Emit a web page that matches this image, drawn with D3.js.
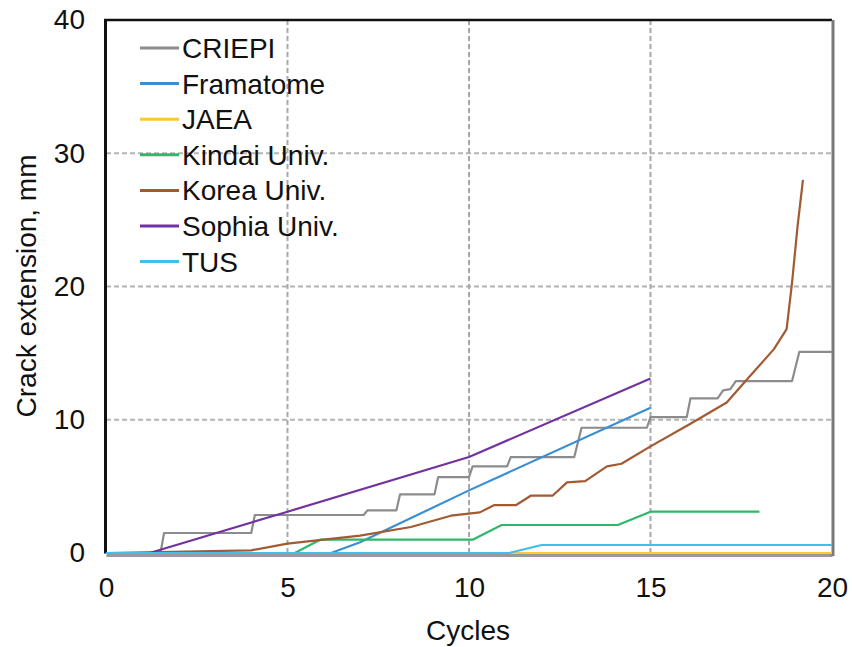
<!DOCTYPE html>
<html>
<head>
<meta charset="utf-8">
<script src="https://cdn.jsdelivr.net/npm/d3@7"></script>
<style>
  body { margin: 0; background: #fff; }
  text { font-family: "Liberation Sans", Arial, sans-serif; fill: #111; }
</style>
</head>
<body>
<div id="chart"></div>
<script>
// series names + colours (legend order)
const seriesNames = ["CRIEPI", "Framatome", "JAEA", "Kindai Univ.", "Korea Univ.", "Sophia Univ.", "TUS"];
const seriesColors = ["#8c8c8c", "#3a8fd3", "#ffc832", "#2eb86a", "#a25a32", "#7232a0", "#3fbfee"];

// [cycles, crack extension mm]
const criepi = [[0,0],[1.5,0],[1.6,1.5],[4.0,1.5],[4.1,2.85],[7.1,2.85],[7.2,3.2],[8.0,3.2],[8.1,4.4],[9.05,4.4],[9.15,5.7],[10.0,5.7],[10.1,6.5],[11.05,6.5],[11.15,7.2],[12.9,7.2],[13.1,9.4],[14.9,9.4],[15.0,10.2],[16.0,10.2],[16.1,11.6],[16.85,11.6],[17.0,12.2],[17.2,12.3],[17.35,12.9],[18.9,12.9],[19.1,15.1],[20,15.1]];
const framatome = [[0,0],[6.2,0],[7.0,0.8],[10.0,4.7],[15.0,10.9]];
const jaea = [[0,0],[20,0]];
const kindai = [[0,0],[5.2,0],[5.9,1.0],[10.1,1.0],[10.9,2.1],[14.1,2.1],[15.0,3.1],[18.0,3.1]];
const korea = [[0,0],[4.0,0.2],[5.0,0.7],[7.0,1.3],[8.4,1.95],[9.5,2.8],[10.3,3.05],[10.7,3.6],[11.3,3.6],[11.7,4.3],[12.3,4.3],[12.7,5.3],[13.2,5.4],[13.8,6.5],[14.2,6.7],[15.0,8.0],[16.1,9.7],[17.1,11.3],[17.65,13.0],[18.4,15.3],[18.75,16.8],[18.9,20.3],[19.05,24.5],[19.2,28.0]];
const sophia = [[0,0],[1.2,0],[5.0,3.1],[10.0,7.2],[15.0,13.1]];
const tus = [[0,0],[11.1,0],[12.0,0.6],[20,0.6]];
const seriesData = [criepi, framatome, jaea, kindai, korea, sophia, tus];

const xTicks = [0, 5, 10, 15, 20];
const yTicks = [0, 10, 20, 30, 40];

const W = 852, H = 647;
const plot = {left: 106, right: 832, top: 20, bottom: 553};

const svg = d3.select("#chart").append("svg")
    .attr("width", W)
    .attr("height", H);

const x = d3.scaleLinear().domain([0, 20]).range([plot.left, plot.right]);
const y = d3.scaleLinear().domain([0, 40]).range([plot.bottom, plot.top]);

// grid
svg.append("g").selectAll("line")
    .data(yTicks.filter(d => d > 0 && d < 40))
    .enter().append("line")
    .attr("x1", plot.left).attr("x2", plot.right)
    .attr("y1", d => y(d)).attr("y2", d => y(d))
    .attr("stroke", "#b4b4b4")
    .attr("stroke-width", 2)
    .attr("stroke-dasharray", "5,3");

svg.append("g").selectAll("line")
    .data(xTicks.filter(d => d > 0 && d < 20))
    .enter().append("line")
    .attr("x1", d => x(d)).attr("x2", d => x(d))
    .attr("y1", plot.top).attr("y2", plot.bottom)
    .attr("stroke", "#a8a8a8")
    .attr("stroke-width", 2)
    .attr("stroke-dasharray", "5,3");

// axes (Excel style frame)
const xAxis = svg.append("g")
    .attr("transform", `translate(0,${plot.bottom + 2})`)
    .call(d3.axisBottom(x).tickValues(xTicks).tickSize(0).tickPadding(22));
xAxis.select(".domain").attr("stroke", "#999").attr("stroke-width", 3);
xAxis.selectAll("text").attr("font-size", "28px").attr("font-family", "Liberation Sans, Arial, sans-serif").attr("fill", "#111");

const yAxis = svg.append("g")
    .attr("transform", `translate(${plot.left - 1},0)`)
    .call(d3.axisLeft(y).tickValues(yTicks).tickSize(0).tickPadding(20));
yAxis.select(".domain").attr("stroke", "#111").attr("stroke-width", 3);
yAxis.selectAll("text").attr("font-size", "28px").attr("font-family", "Liberation Sans, Arial, sans-serif").attr("fill", "#111");

svg.append("line")
    .attr("x1", plot.left - 2).attr("x2", plot.right)
    .attr("y1", plot.top).attr("y2", plot.top)
    .attr("stroke", "#111").attr("stroke-width", 2.5);
svg.append("line")
    .attr("x1", plot.right + 1).attr("x2", plot.right + 1)
    .attr("y1", plot.top).attr("y2", plot.bottom + 3)
    .attr("stroke", "#7a7a7a").attr("stroke-width", 3);

// series lines
const line = d3.line().x(d => x(d[0])).y(d => y(d[1]));
svg.append("g").selectAll("path")
    .data(seriesData)
    .enter().append("path")
    .attr("d", line)
    .attr("fill", "none")
    .attr("stroke", (d, i) => seriesColors[i])
    .attr("stroke-width", 2.2)
    .attr("stroke-linejoin", "round");

// legend
const legend = svg.append("g");
seriesNames.forEach((name, i) => {
    const ly = 48 + i * 35.6;
    legend.append("line")
        .attr("x1", 140).attr("x2", 179)
        .attr("y1", ly).attr("y2", ly)
        .attr("stroke", seriesColors[i])
        .attr("stroke-width", 3);
    legend.append("text")
        .attr("x", 182).attr("y", ly)
        .attr("dy", "0.36em")
        .attr("font-size", "28px")
        .text(name);
});

// axis titles
svg.append("text")
    .attr("x", 468).attr("y", 640)
    .attr("text-anchor", "middle")
    .attr("font-size", "28px")
    .text("Cycles");

svg.append("text")
    .attr("transform", "translate(36,286) rotate(-90)")
    .attr("text-anchor", "middle")
    .attr("font-size", "28px")
    .text("Crack extension, mm");
</script>
</body>
</html>
